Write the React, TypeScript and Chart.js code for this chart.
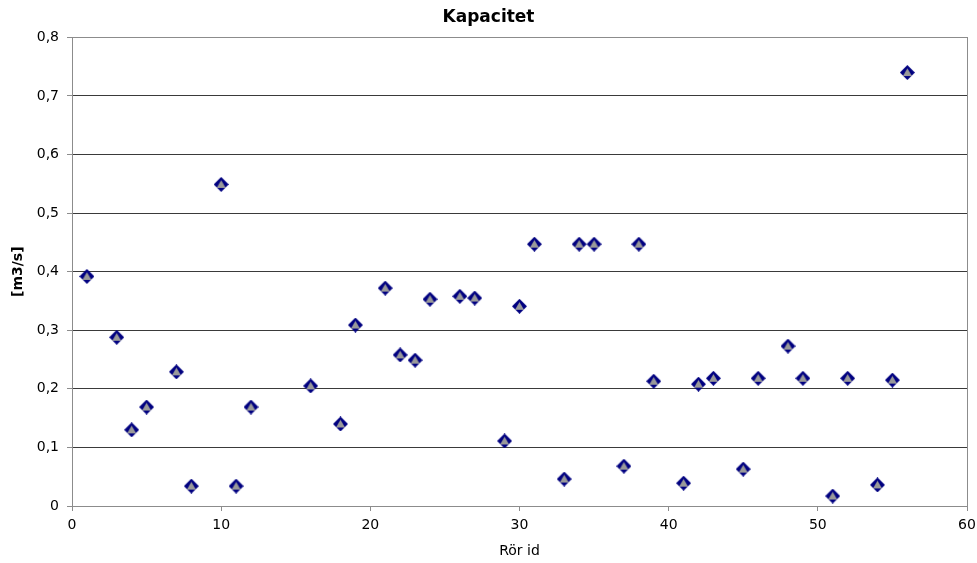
import React, { useEffect, useRef } from "react";
import { Chart, registerables } from "chart.js";

Chart.register(...registerables);

// Rör id and capacity in m3/s
const pipeIds = [1, 3, 4, 5, 7, 8, 10, 11, 12, 16, 18, 19, 21, 22, 23, 24, 26, 27, 29, 30, 31, 33, 34, 35, 37, 38, 39, 41, 42, 43, 45, 46, 48, 49, 51, 52, 54, 55, 56];
const capacity = [0.392, 0.288, 0.13, 0.169, 0.229, 0.034, 0.549, 0.034, 0.169, 0.205, 0.14, 0.309, 0.372, 0.258, 0.249, 0.353, 0.358, 0.355, 0.111, 0.341, 0.447, 0.046, 0.447, 0.447, 0.068, 0.447, 0.213, 0.039, 0.208, 0.218, 0.063, 0.218, 0.273, 0.218, 0.017, 0.218, 0.036, 0.215, 0.74];

const FONT = "'DejaVu Sans', Verdana, sans-serif";

// Navy diamond marker with a grey inner triangle
function makeDiamond(): HTMLCanvasElement {
  const c = document.createElement("canvas");
  const s = 15;
  c.width = s;
  c.height = s;
  const g = c.getContext("2d")!;
  g.fillStyle = "#000080";
  g.beginPath();
  g.moveTo(s / 2, 0);
  g.lineTo(s, s / 2);
  g.lineTo(s / 2, s);
  g.lineTo(0, s / 2);
  g.closePath();
  g.fill();
  g.fillStyle = "#9a9a9a";
  g.beginPath();
  g.moveTo(s / 2, 3.2);
  g.lineTo(12, 11);
  g.lineTo(3, 11);
  g.closePath();
  g.fill();
  return c;
}

const plotFrame = {
  id: "plotFrame",
  beforeDatasetsDraw(chart: any) {
    const { ctx, chartArea: a } = chart;
    ctx.save();
    ctx.strokeStyle = "#8c8c8c";
    ctx.lineWidth = 1;
    ctx.strokeRect(Math.round(a.left) + 0.5, Math.round(a.top) + 0.5, Math.round(a.right - a.left), Math.round(a.bottom - a.top));
    ctx.restore();
  },
};

export default function App() {
  const ref = useRef<HTMLCanvasElement | null>(null);

  useEffect(() => {
    if (!ref.current) return;
    const marker = makeDiamond();
    const chart = new Chart(ref.current, {
      type: "scatter",
      data: {
        datasets: [
          {
            label: "Kapacitet",
            data: pipeIds.map((x, i) => ({ x, y: capacity[i] })),
            pointStyle: marker as any,
            pointRadius: 7,
          },
        ],
      },
      options: {
        animation: false,
        responsive: false,
        layout: { padding: { left: 10, right: 10, top: 0, bottom: 3 } },
        plugins: {
          legend: { display: false },
          tooltip: { enabled: false },
          title: {
            display: true,
            text: "Kapacitet",
            color: "#000",
            font: { family: FONT, size: 17, weight: "bold" },
            padding: { top: 7, bottom: 10 },
          },
        },
        scales: {
          x: {
            type: "linear",
            min: 0,
            max: 60,
            ticks: { stepSize: 10, color: "#000", font: { family: FONT, size: 14 }, padding: 6, maxRotation: 0 },
            grid: { drawOnChartArea: false, tickLength: 5, tickColor: "#8c8c8c" },
            border: { color: "#8c8c8c" },
            title: { display: true, text: "Rör id", color: "#000", font: { family: FONT, size: 14 }, padding: { top: 5, bottom: 0 } },
            afterFit: (s: any) => {
              s.height = 54;
              s.paddingRight = 0;
            },
          },
          y: {
            type: "linear",
            min: 0,
            max: 0.8,
            ticks: {
              stepSize: 0.1,
              color: "#000",
              font: { family: FONT, size: 14 },
              padding: 8,
              callback: (v: any) => (Number(v) === 0 ? "0" : Number(v).toFixed(1).replace(".", ",")),
            },
            grid: {
              tickLength: 5,
              tickColor: "#8c8c8c",
              color: (c: any) => (c.tick && (c.tick.value === 0 || Math.abs(c.tick.value - 0.8) < 1e-9) ? "rgba(0,0,0,0)" : "#3a3a3a"),
            },
            border: { color: "#8c8c8c" },
            title: { display: true, text: "[m3/s]", color: "#000", font: { family: FONT, size: 14, weight: "bold" }, padding: { top: 0, bottom: 4 } },
            afterFit: (s: any) => {
              s.width = 62;
            },
          },
        },
      },
      plugins: [plotFrame],
    });
    return () => chart.destroy();
  }, []);

  return (
    <div style={{ position: "fixed", left: 0, top: 0, width: 977, height: 563, background: "#fff" }}>
      <canvas ref={ref} width={977} height={563} style={{ display: "block" }} />
    </div>
  );
}
